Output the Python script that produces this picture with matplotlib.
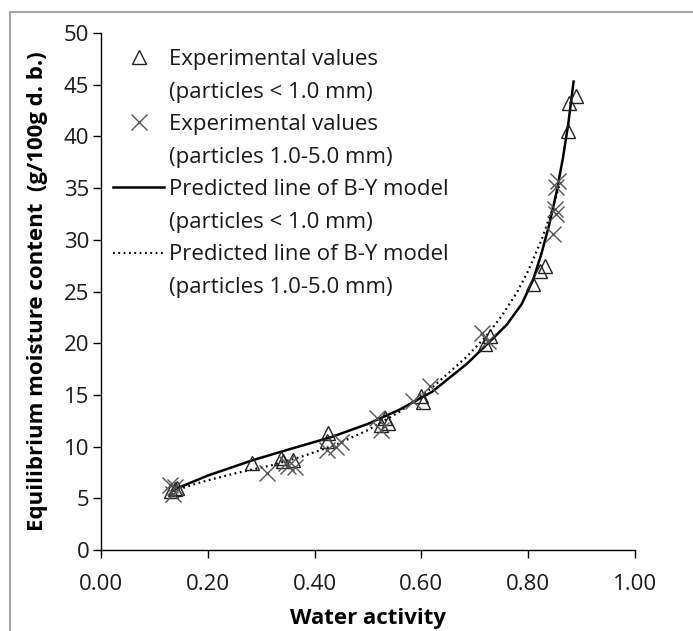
import matplotlib
matplotlib.use("Agg")
import matplotlib.pyplot as plt
from matplotlib.patches import Rectangle
from matplotlib.lines import Line2D

plt.rcParams['font.family'] = ['Open Sans', 'DejaVu Sans']

# experimental points, particles < 1.0 mm (triangles)
aw_small = [0.132, 0.142, 0.138, 0.282, 0.338, 0.341, 0.360, 0.425, 0.423,
            0.532, 0.538, 0.525, 0.600, 0.603, 0.728, 0.720,
            0.809, 0.822, 0.831, 0.875, 0.876, 0.890]
emc_small = [5.7, 6.0, 5.9, 8.4, 8.9, 8.6, 8.7, 11.3, 10.5,
             12.8, 12.3, 12.1, 14.9, 14.3, 20.7, 19.9,
             25.7, 27.0, 27.5, 40.5, 43.2, 43.9]

# experimental points, particles 1.0-5.0 mm (crosses)
aw_large = [0.129, 0.139, 0.135, 0.310, 0.347, 0.350, 0.363, 0.423, 0.441, 0.450,
            0.516, 0.525, 0.585, 0.616, 0.713, 0.725,
            0.847, 0.852, 0.850, 0.852, 0.856]
emc_large = [6.3, 6.1, 5.4, 7.4, 8.4, 8.1, 8.0, 9.7, 10.0, 10.4,
             12.8, 11.6, 14.4, 15.9, 21.0, 20.2,
             30.6, 32.5, 33.0, 35.1, 35.7]

# B-Y model curves
aw_fit_small = [0.135, 0.20, 0.285, 0.35, 0.43, 0.50, 0.56, 0.62, 0.685, 0.725,
                0.76, 0.788, 0.809, 0.825, 0.84, 0.853, 0.865, 0.875, 0.885]
emc_fit_small = [5.8, 7.2, 8.7, 9.7, 10.9, 12.2, 13.6, 15.3, 18.0, 20.0,
                 21.8, 23.8, 26.1, 28.7, 31.6, 34.6, 37.9, 41.2, 45.3]

aw_fit_large = [0.135, 0.19, 0.25, 0.32, 0.38, 0.44, 0.50, 0.56, 0.62, 0.685,
                0.72, 0.75, 0.78, 0.80, 0.825, 0.845, 0.86]
emc_fit_large = [5.7, 6.6, 7.4, 8.2, 9.1, 10.2, 11.6, 13.4, 15.7, 18.7,
                 20.6, 22.6, 25.0, 27.0, 30.0, 32.9, 35.6]

xticks = [0.0, 0.2, 0.4, 0.6, 0.8, 1.0]
yticks = list(range(0, 55, 5))

FS = 16
W, H = 693, 631
fig = plt.figure(figsize=(W / 100, H / 100), dpi=100)
ax = fig.add_axes([101 / W, 1 - 550 / H, 534 / W, 517 / H])

# grey frame round the chart
fig.patches.append(Rectangle((10 / W, -0.1), 1.2, 1 - 12 / H + 0.1,
                             transform=fig.transFigure, fill=False,
                             edgecolor="#a6a6a6", lw=1.5))

dots = (0, (0.8, 1.6))
ax.plot(aw_fit_large, emc_fit_large, color="black", lw=1.6, ls=dots, zorder=2)
ax.plot(aw_fit_small, emc_fit_small, color="black", lw=1.8, ls="-", zorder=3)
ax.plot(aw_small, emc_small, ls="none", marker="^", ms=10.5, mfc="none",
        mec="#222222", mew=1.0, zorder=4)
ax.plot(aw_large, emc_large, ls="none", marker="x", ms=11, mec="#555555",
        mew=1.0, zorder=4)

ax.set_xlim(0, 1)
ax.set_ylim(0, 50)
ax.set_xticks(xticks)
ax.set_xticklabels(["%.2f" % v for v in xticks])
ax.set_yticks(yticks)
for s in ["top", "right"]:
    ax.spines[s].set_visible(False)
for s in ["left", "bottom"]:
    ax.spines[s].set_linewidth(1.0)
ax.tick_params(direction="out", length=5.5, width=1.0, labelsize=FS, pad=3,
               labelcolor="#1a1a1a")
ax.tick_params(axis="x", pad=12)

ax.set_xlabel("Water activity", fontsize=FS, fontweight="bold", labelpad=9)
ax.set_ylabel("Equilibrium moisture content  (g/100g d. b.)", fontsize=FS,
              fontweight="bold", labelpad=11)

blank = Line2D([], [], ls="none")
handles = [Line2D([], [], ls="none", marker="^", ms=10.5, mfc="none", mec="#222222"),
           blank,
           Line2D([], [], ls="none", marker="x", ms=11, mec="#555555"),
           blank,
           Line2D([], [], color="black", lw=1.8),
           blank,
           Line2D([], [], color="black", lw=1.6, ls=dots),
           blank]
labels = ["Experimental values", "(particles < 1.0 mm)",
          "Experimental values", "(particles 1.0-5.0 mm)",
          "Predicted line of B-Y model", "(particles < 1.0 mm)",
          "Predicted line of B-Y model", "(particles 1.0-5.0 mm)"]
leg = ax.legend(handles, labels, loc="upper left",
                bbox_to_anchor=(113 / W, 1 - 49 / H), bbox_transform=fig.transFigure,
                frameon=False, fontsize=FS, borderpad=0, borderaxespad=0,
                handlelength=2.3, handletextpad=0.2, labelspacing=0.52)
for t in leg.get_texts():
    t.set_color("#1a1a1a")

fig.savefig("out.png", dpi=100)
